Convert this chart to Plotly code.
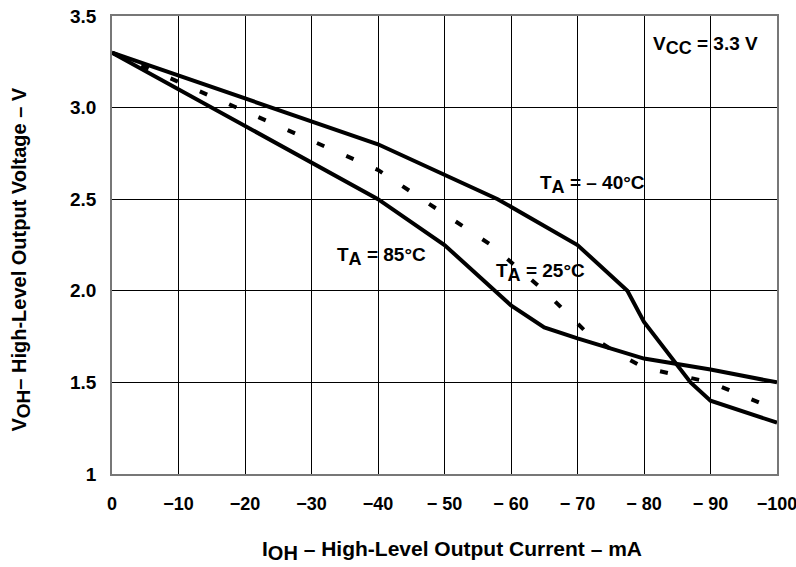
import plotly.graph_objects as go

# Data (I_OH in mA, V_OH in V)
i_m40 = [0, -40, -58, -70, -77.5, -80, -87, -90, -100]
v_m40 = [3.3, 2.8, 2.5, 2.25, 2.0, 1.83, 1.5, 1.4, 1.28]

i_25 = [0, -40, -57, -65, -72, -76, -80, -85, -90, -100]
v_25 = [3.3, 2.66, 2.25, 2.0, 1.75, 1.66, 1.58, 1.54, 1.5, 1.35]

i_85 = [0, -40, -50, -60, -65, -70, -80, -90, -100]
v_85 = [3.3, 2.5, 2.25, 1.92, 1.8, 1.74, 1.63, 1.57, 1.5]

x_tickvals = [0, -10, -20, -30, -40, -50, -60, -70, -80, -90, -100]
x_ticktext = ["0", "−10", "−20", "−30", "−40", "− 50", "− 60", "− 70", "− 80", "− 90", "−100"]
y_tickvals = [1, 1.5, 2.0, 2.5, 3.0, 3.5]
y_ticktext = ["1", "1.5", "2.0", "2.5", "3.0", "3.5"]

FONT = "Liberation Sans, Arial, sans-serif"


def sub(s, size):
    return '<sub><span style="font-size:%dpx">%s</span></sub>' % (size, s)


fig = go.Figure()
fig.add_trace(go.Scatter(x=i_m40, y=v_m40, mode="lines",
                         line=dict(color="black", width=4), showlegend=False))
fig.add_trace(go.Scatter(x=i_85, y=v_85, mode="lines",
                         line=dict(color="black", width=4), showlegend=False))
fig.add_trace(go.Scatter(x=i_25, y=v_25, mode="lines",
                         line=dict(color="black", width=4, dash="8px,24px"), showlegend=False))

ann_font = dict(family=FONT, size=19, color="black")
annotations = [
    dict(x=-89.2, y=3.34, text="<b>V" + sub("CC", 18) + " = 3.3 V</b>"),
    dict(x=-72.2, y=2.58, text="<b>T" + sub("A", 18) + " = – 40°C</b>"),
    dict(x=-40.5, y=2.185, text="<b>T" + sub("A", 18) + " = 85°C</b>"),
    dict(x=-64.5, y=2.10, text="<b>T" + sub("A", 18) + " = 25°C</b>"),
]
for a in annotations:
    a.update(xref="x", yref="y", showarrow=False, font=ann_font,
             xanchor="center", yanchor="middle")

title_font = dict(family=FONT, size=21, color="black")
annotations.append(dict(
    xref="paper", yref="paper", x=0.511, y=-0.166, showarrow=False,
    xanchor="center", yanchor="middle", font=title_font,
    text="<b>I" + sub("OH", 20) + " – High-Level Output Current – mA</b>"))
annotations.append(dict(
    xref="paper", yref="paper", x=-0.137, y=0.468, showarrow=False,
    xanchor="center", yanchor="middle", textangle=-90,
    font=dict(family=FONT, size=20, color="black"),
    text="<b>V" + sub("OH", 19) + "– High-Level Output Voltage – V</b>"))

fig.update_layout(
    width=796, height=567,
    margin=dict(l=112, r=19, t=16, b=93),
    paper_bgcolor="white", plot_bgcolor="white",
    annotations=annotations,
    font=dict(family=FONT, color="black"),
)
fig.update_xaxes(range=[0, -100], tickvals=x_tickvals, ticktext=x_ticktext,
                 showgrid=True, gridcolor="black", gridwidth=1.3,
                 showline=True, linecolor="#777777", linewidth=1.5, mirror=True,
                 zeroline=False, ticks="", ticklabelstandoff=13, automargin=False,
                 ticklabeloverflow="allow",
                 tickfont=dict(family=FONT, size=18, color="black", weight="bold"))
fig.update_yaxes(range=[1, 3.5], tickvals=y_tickvals, ticktext=y_ticktext,
                 showgrid=True, gridcolor="black", gridwidth=1.3,
                 showline=True, linecolor="#777777", linewidth=1.5, mirror=True,
                 zeroline=False, ticks="", ticklabelstandoff=10, automargin=False,
                 tickfont=dict(family=FONT, size=19, color="black", weight="bold"))

fig.write_html("out.html")
